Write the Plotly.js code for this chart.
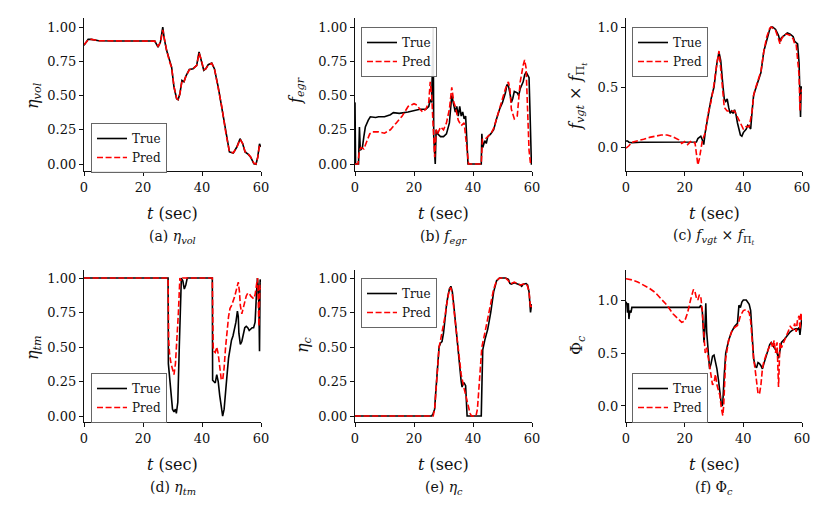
<!DOCTYPE html>
<html>
<head>
<meta charset="utf-8">
<script src="https://cdn.plot.ly/plotly-3.0.1.min.js"></script>
<style>
  html, body { margin: 0; padding: 0; background: #ffffff; }
  #containerID { width: 830px; height: 522px; }
</style>
</head>
<body>
<div id="containerID"></div>
<script>
// (a) volumetric efficiency
var volT = [0,1.4,2.5,5,10,15,20,24,25.1,25.9,26.7,27.2,28,29.1,29.7,30.5,31.4,31.9,32.5,33.2,33.9,34.5,35.7,37,38.2,39,39.6,40.6,41.3,42.1,43.3,44.2,45.5,46.7,48.1,49.3,50.6,51.8,52.9,53.8,54.6,55.7,56.5,57.6,58.3,58.9,59.5,59.9];
var volTrue = [0.866,0.91,0.91,0.9,0.898,0.898,0.898,0.898,0.854,0.89,1.0,0.915,0.83,0.737,0.708,0.562,0.477,0.47,0.513,0.61,0.6,0.64,0.69,0.696,0.72,0.818,0.77,0.684,0.696,0.725,0.737,0.696,0.562,0.416,0.22,0.088,0.08,0.124,0.185,0.148,0.088,0.07,0.05,0.002,-0.002,0.05,0.148,0.124];
var volPred = [0.87,0.905,0.91,0.9,0.899,0.898,0.899,0.897,0.86,0.885,0.98,0.92,0.83,0.74,0.705,0.565,0.48,0.472,0.51,0.605,0.602,0.638,0.688,0.698,0.718,0.81,0.772,0.688,0.694,0.722,0.735,0.698,0.565,0.42,0.225,0.09,0.082,0.12,0.18,0.15,0.09,0.072,0.052,0.005,0.0,0.048,0.14,0.13];

// (b) egr fraction
var egrTrueT = [0,0.2,1.2,1.5,1.8,2.5,3,3.5,4.5,5.2,7,8,10,12,13,15,18,20,22,24,25,25.5,26,26.3,26.5,26.7,27,27.2,27.5,28,29,30,31,32,32.8,33.3,34,34.5,35,35.5,36,36.5,37,37.5,38,38.3,42.8,43,43.3,44,44.5,45,46,47,48,49,50,51,51.5,52,52.5,53,53.5,54,55,55.5,56,57,57.5,58,58.5,59,59.3,59.6,59.8,60];
var egrTrue = [0.45,0.0,0.0,0.27,0.1,0.12,0.2,0.27,0.32,0.345,0.34,0.345,0.345,0.36,0.375,0.37,0.38,0.39,0.4,0.4,0.42,0.47,0.45,0.8,1.0,0.2,0.0,0.0,0.25,0.22,0.2,0.2,0.22,0.3,0.5,0.45,0.38,0.42,0.35,0.42,0.35,0.38,0.33,0.35,0.1,0.0,0.0,0.22,0.12,0.17,0.15,0.2,0.22,0.25,0.33,0.4,0.45,0.52,0.58,0.57,0.52,0.45,0.48,0.53,0.52,0.5,0.55,0.6,0.65,0.67,0.65,0.63,0.4,0.1,0.0,0.0];
var egrPredT = [0,1,1.5,2,3,4,5,6,8,10,12,14,16,18,20,21,22,23,24,25,25.5,26,26.5,27,27.5,28,29,30,31,32,32.8,33.5,34,35,36,37,38,38.5,42.8,43.2,44,45,46,47,48,49,50,51,52,52.5,53,54,55,55.5,56,57,57.5,58,58.5,59,59.5,60];
var egrPred = [0,0,0.1,0.12,0.11,0.17,0.22,0.235,0.235,0.225,0.25,0.3,0.35,0.42,0.44,0.43,0.4,0.38,0.4,0.45,0.6,0.5,0.2,0.05,0.25,0.22,0.27,0.25,0.3,0.4,0.56,0.45,0.42,0.32,0.28,0.3,0.1,0.0,0.0,0.18,0.18,0.2,0.22,0.26,0.33,0.4,0.47,0.55,0.6,0.55,0.4,0.33,0.35,0.45,0.6,0.72,0.76,0.7,0.4,0.1,0.0,0.0];

// (c) vgt x turbine pressure ratio
var vgtTrueT = [0,0.5,1,2,5,10,15,20,24,24.5,25.5,26,26.5,27,28,29,30,30.5,31,31.7,32.3,33,33.5,34,34.5,35,35.5,36,36.5,37,37.5,38,39,39.5,40,41,41.5,42,42.5,43,43.5,44,45,46,47,48,49,49.5,50,51,52,52.5,53,54,55,56,57,57.5,58,58.5,59,59.3,59.5,59.7,60];
var vgtTrue = [0.05,0.05,0.04,0.035,0.04,0.04,0.04,0.04,0.042,0.07,0.09,0.06,0.02,0.12,0.28,0.4,0.5,0.62,0.7,0.79,0.72,0.52,0.4,0.38,0.4,0.33,0.28,0.3,0.28,0.31,0.27,0.2,0.1,0.09,0.12,0.15,0.18,0.17,0.15,0.3,0.43,0.47,0.55,0.62,0.8,0.9,0.98,1.0,1.0,0.98,0.93,0.88,0.91,0.93,0.95,0.94,0.92,0.88,0.87,0.86,0.7,0.45,0.25,0.5,0.5];
var vgtPredT = [0,1,2,4,6,8,10,12,14,16,18,19,20,21,22,23,23.5,24,24.5,25,25.5,26,27,28,29,30,31,31.7,32.5,33.5,34.5,36,37,38,39,40,41,42,43,43.5,44,45,46,47,48,49,49.5,50,51,52,52.5,53,54,55,56,57,57.5,58,59,59.3,59.6,60];
var vgtPred = [-0.01,0.01,0.04,0.05,0.065,0.08,0.09,0.1,0.1,0.085,0.06,0.03,0.045,0.02,0.045,0.03,0.04,-0.05,-0.15,-0.1,0.0,0.05,0.12,0.28,0.38,0.52,0.7,0.8,0.6,0.33,0.3,0.3,0.3,0.25,0.2,0.15,0.17,0.17,0.3,0.43,0.48,0.56,0.63,0.8,0.92,0.99,1.0,0.99,0.97,0.9,0.86,0.9,0.94,0.94,0.93,0.9,0.86,0.86,0.6,0.3,0.45,0.48];

// (d) turbine efficiency
var tmTrueT = [0,28.5,28.6,29,29.5,30,30.5,31,31.3,31.8,32.3,32.7,33,33.5,34,34.5,35,43.5,43.6,44,44.5,45,45.5,46,46.5,47,47.5,48,48.5,49,49.5,50,50.5,51,51.5,52,52.3,52.5,53,53.5,54,54.5,55,55.5,56,56.5,57,57.5,58,58.5,58.8,59,59.3,59.5,59.7,60];
var tmTrue = [1,1,0.38,0.3,0.15,0.05,0.03,0.05,0.02,0.1,0.5,0.9,1.0,0.98,0.92,0.95,1.0,1.0,0.26,0.25,0.24,0.3,0.25,0.15,0.05,0.0,0.05,0.2,0.3,0.42,0.5,0.55,0.58,0.63,0.68,0.76,0.72,0.6,0.52,0.54,0.6,0.64,0.65,0.64,0.62,0.63,0.64,0.64,0.68,0.9,1.0,0.95,0.8,0.47,0.99,0.97];
var tmPredT = [0,28.5,28.7,29,29.5,30,30.5,31,31.5,32,32.5,33,33.5,43.5,43.8,44,44.5,45,45.5,46,46.5,47,47.5,48,48.5,49,49.5,50,51,51.5,52,52.3,52.7,53,53.5,54,54.5,55,55.5,56,56.5,57,57.5,58,58.5,58.8,59,59.3,59.6,60];
var tmPred = [1,1,0.55,0.45,0.38,0.34,0.3,0.38,0.55,0.75,1.0,0.98,1.0,1.0,0.5,0.47,0.46,0.5,0.45,0.33,0.27,0.26,0.35,0.5,0.62,0.72,0.78,0.8,0.86,0.9,0.95,0.97,0.9,0.8,0.74,0.78,0.84,0.87,0.89,0.89,0.87,0.86,0.85,0.88,0.97,1.0,0.9,0.65,0.95,0.92];

// (e) compressor efficiency
var cTrueT = [0,26,26.5,27,27.3,28,28.5,29,29.5,30,30.5,31,31.5,32,32.5,33,33.5,34,34.5,35,35.5,36,36.3,36.7,37,37.5,38,38.3,42.8,43,43.3,44,45,46,47,48,49,51,52,52.5,53,54,55,56,56.5,57,58,58.5,59,59.5,59.8,60];
var cTrue = [0,0,0.02,0.05,0.15,0.4,0.5,0.53,0.54,0.6,0.72,0.8,0.87,0.92,0.94,0.9,0.8,0.68,0.57,0.45,0.35,0.25,0.21,0.24,0.24,0.22,0.0,0.0,0.0,0.2,0.48,0.55,0.63,0.75,0.9,0.98,1.0,1.0,0.99,0.96,0.955,0.965,0.96,0.95,0.94,0.955,0.96,0.95,0.9,0.75,0.8,0.81];
var cPredT = [0,26.5,27,27.5,28,28.5,29,29.5,30,30.5,31,31.5,32,32.5,33,34,35,36,37,38,39,39.5,41,41.5,42,42.5,43,44,45,46,47,48,49,51,52,52.5,53,54,55,56,57,58,58.5,59,59.5,60];
var cPred = [0,0,0.05,0.2,0.35,0.5,0.55,0.6,0.66,0.72,0.8,0.87,0.92,0.93,0.88,0.68,0.5,0.3,0.2,0.1,0.02,0.0,0.0,0.05,0.2,0.4,0.5,0.6,0.7,0.8,0.92,0.98,1.0,1.0,0.98,0.96,0.96,0.97,0.96,0.95,0.955,0.96,0.94,0.9,0.78,0.8];

// (f) compressor flow
var phiTrueT = [0,0.3,0.5,0.8,1,1.3,1.7,2,10,20,25,25.5,26,26.3,26.6,27,27.2,27.5,28,28.5,29,29.5,30,30.5,31,31.5,32,32.5,32.8,33,33.5,34,35,36,37,38,38.5,39,39.5,40,41,41.5,42,42.5,43,43.5,44,44.5,45,45.5,46,46.5,47,48,49,49.5,50,50.5,51,51.5,52,52.5,53,54,55,56,57,58,58.5,59,59.3,59.6,60];
var phiTrue = [0.984,0.96,0.88,0.97,0.82,0.9,0.88,0.93,0.93,0.93,0.93,0.95,0.9,0.75,0.6,0.8,0.97,0.7,0.5,0.35,0.4,0.47,0.48,0.42,0.35,0.25,0.12,0.02,0.0,0.03,0.3,0.5,0.62,0.7,0.75,0.78,0.95,0.93,0.98,1.0,1.0,0.98,0.96,0.9,0.7,0.45,0.38,0.36,0.41,0.4,0.38,0.35,0.4,0.5,0.58,0.6,0.57,0.55,0.53,0.5,0.45,0.55,0.6,0.63,0.67,0.7,0.72,0.73,0.72,0.74,0.67,0.75,0.85];
var phiPredT = [0,2,4,6,8,10,12,14,16,18,19,20,21,22,23,23.5,24,24.5,25,25.5,26,26.5,27,27.5,28,28.5,29,29.5,30,30.5,31,31.5,32,32.5,33,33.3,33.7,34,35,36,37,38,38.5,39,40,41,41.5,42,42.5,43,43.5,44,44.5,45,45.5,46,46.5,47,48,49,49.5,50,50.5,51,51.5,52,52.2,52.5,53,54,55,55.5,56,57,57.5,58,58.5,59,59.3,59.6,60];
var phiPred = [1.2,1.19,1.17,1.14,1.11,1.07,1.01,0.95,0.87,0.81,0.79,0.8,0.88,1.0,1.1,1.08,1.02,1.0,1.05,1.03,0.9,0.7,0.5,0.55,0.45,0.35,0.28,0.2,0.22,0.3,0.2,0.15,0.1,-0.02,-0.09,0.0,0.3,0.45,0.62,0.7,0.74,0.76,0.8,0.85,0.9,0.91,0.9,0.88,0.8,0.6,0.45,0.35,0.2,0.12,0.11,0.2,0.35,0.42,0.5,0.58,0.6,0.55,0.62,0.5,0.6,0.18,0.45,0.6,0.55,0.62,0.68,0.72,0.75,0.72,0.78,0.7,0.82,0.85,0.72,0.88,0.8];

var xTicks = [0, 20, 40, 60];
var quarterTicks = [0, 0.25, 0.5, 0.75, 1.0];
var halfTicks = [0, 0.5, 1.0];

var yTitles = ['<i>η</i><sub><i>vol</i></sub>', '<i>f</i><sub><i>egr</i></sub>',
    '<i>f</i><sub><i>vgt</i></sub> × <i>f</i><sub>Π<sub><i>t</i></sub></sub>',
    '<i>η</i><sub><i>tm</i></sub>', '<i>η</i><sub><i>c</i></sub>', 'Φ<sub><i>c</i></sub>'];
var captions = ['(a) ', '(b) ', '(c) ', '(d) ', '(e) ', '(f) '];

var serif = "'DejaVu Serif', 'Liberation Serif', serif";
var ink = '#111111';

// panel geometry in pixels (figure is 830 x 522)
var panels = [
    {tT: volT, tv: volTrue, pT: volT, pv: volPred, px: [84, 261], py: [18, 171], yr: [-0.051, 1.066], yt: quarterTicks, fmt: '.2f', leg: [91, 123], yl: [33, 96]},
    {tT: egrTrueT, tv: egrTrue, pT: egrPredT, pv: egrPred, px: [355, 532], py: [18, 171], yr: [-0.051, 1.066], yt: quarterTicks, fmt: '.2f', leg: [361, 27], yl: [296, 91]},
    {tT: vgtTrueT, tv: vgtTrue, pT: vgtPredT, pv: vgtPred, px: [626, 802], py: [18, 171], yr: [-0.2, 1.075], yt: halfTicks, fmt: '.1f', leg: [632, 27], yl: [577, 96]},
    {tT: tmTrueT, tv: tmTrue, pT: tmPredT, pv: tmPred, px: [84, 261], py: [270, 422], yr: [-0.043, 1.058], yt: quarterTicks, fmt: '.2f', leg: [91, 373], yl: [33, 348]},
    {tT: cTrueT, tv: cTrue, pT: cPredT, pv: cPred, px: [355, 532], py: [270, 422], yr: [-0.043, 1.058], yt: quarterTicks, fmt: '.2f', leg: [361, 278], yl: [303, 345]},
    {tT: phiTrueT, tv: phiTrue, pT: phiPredT, pv: phiPred, px: [626, 802], py: [270, 422], yr: [-0.151, 1.283], yt: halfTicks, fmt: '.1f', leg: [632, 373], yl: [577, 345]}
];

var W = 830, H = 522;
var plotlyData = [];
var plotlyLayout = {
    width: W,
    height: H,
    margin: {l: 0, r: 0, t: 0, b: 0},
    paper_bgcolor: '#ffffff',
    plot_bgcolor: '#ffffff',
    font: {family: serif, size: 13, color: ink},
    showlegend: true,
    annotations: []
};

for(var i = 0; i < panels.length; i++)
{
    var p = panels[i];
    var n = i === 0 ? '' : String(i + 1);
    var legName = 'legend' + n;

    plotlyData.push({
        x: p.tT, y: p.tv, xaxis: 'x' + n, yaxis: 'y' + n,
        type: 'scatter', mode: 'lines', name: 'True', legend: legName,
        line: {color: '#000000', width: 1.6}
    });
    plotlyData.push({
        x: p.pT, y: p.pv, xaxis: 'x' + n, yaxis: 'y' + n,
        type: 'scatter', mode: 'lines', name: 'Pred', legend: legName,
        line: {color: '#ff0000', width: 1.6, dash: '6px,2.6px'}
    });

    plotlyLayout['xaxis' + n] = {
        domain: [p.px[0] / W, p.px[1] / W],
        anchor: 'y' + n,
        range: [0, 60],
        tickvals: xTicks,
        ticks: 'outside', ticklen: 4, tickwidth: 1, tickcolor: ink,
        showline: true, linecolor: ink, linewidth: 1.2,
        showgrid: false, zeroline: false,
        tickfont: {family: serif, size: 13, color: ink}
    };
    plotlyLayout['yaxis' + n] = {
        domain: [(H - p.py[1]) / H, (H - p.py[0]) / H],
        anchor: 'x' + n,
        range: p.yr,
        tickvals: p.yt,
        tickformat: p.fmt,
        ticks: 'outside', ticklen: 4, tickwidth: 1, tickcolor: ink,
        showline: true, linecolor: ink, linewidth: 1.2,
        showgrid: false, zeroline: false,
        tickfont: {family: serif, size: 13, color: ink}
    };

    plotlyLayout[legName] = {
        x: p.leg[0] / W, y: (H - p.leg[1]) / H,
        xanchor: 'left', yanchor: 'top',
        bgcolor: 'rgba(255,255,255,0.9)',
        bordercolor: '#666666', borderwidth: 1,
        itemwidth: 30,
        tracegroupgap: 0,
        font: {family: serif, size: 12, color: ink}
    };

    var midX = (p.px[0] + p.px[1]) / 2 / W;
    var rowTitleY = p.py[1] + 42;
    var rowCaptionY = p.py[1] + 66;

    // y axis title
    plotlyLayout.annotations.push({
        text: yTitles[i], xref: 'paper', yref: 'paper',
        x: p.yl[0] / W, y: (H - p.yl[1]) / H,
        xanchor: 'center', yanchor: 'middle', textangle: -90,
        showarrow: false, font: {family: serif, size: 16, color: ink}
    });
    // x axis title
    plotlyLayout.annotations.push({
        text: '<i>t</i> (sec)', xref: 'paper', yref: 'paper',
        x: midX, y: (H - rowTitleY) / H,
        xanchor: 'center', yanchor: 'middle',
        showarrow: false, font: {family: serif, size: 16, color: ink}
    });
    // caption
    plotlyLayout.annotations.push({
        text: captions[i] + yTitles[i], xref: 'paper', yref: 'paper',
        x: midX, y: (H - rowCaptionY) / H,
        xanchor: 'center', yanchor: 'middle',
        showarrow: false, font: {family: serif, size: 14, color: ink}
    });
}

var plotlyConfig = {
    displayModeBar: false,
    responsive: false,
    staticPlot: true
};

Plotly.newPlot("containerID", plotlyData, plotlyLayout, plotlyConfig);
</script>
</body>
</html>
